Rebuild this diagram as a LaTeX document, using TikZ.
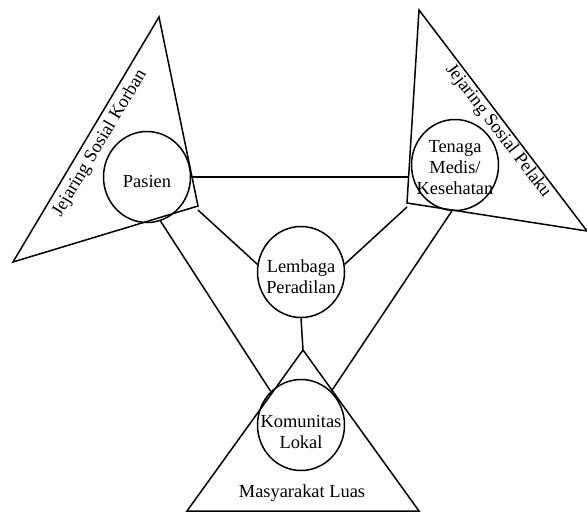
\documentclass[tikz,border=0pt]{standalone}
\usepackage{fontspec}
\setmainfont{Liberation Serif}
\usetikzlibrary{shapes.geometric}
\begin{document}
\begin{tikzpicture}[x=1pt,y=-1pt,line width=1.5pt,
  circ/.style={draw,ellipse,minimum width=87pt,minimum height=91pt,inner sep=0pt},
  lbl/.style={font=\fontsize{18.4}{21}\selectfont,align=center,inner sep=0pt},
  tri/.style={draw,line join=miter},
  link/.style={draw}]
\useasboundingbox (0,0) rectangle (587,512);
% triangles
\coordinate (LA) at (159,17);
\coordinate (LB) at (13,262);
\coordinate (LC) at (198,206);
\coordinate (RA) at (419,10);
\coordinate (RB) at (587,231);
\coordinate (RC) at (407,203);
\coordinate (BA) at (303,350);
\coordinate (BB) at (187,511);
\coordinate (BC) at (419,511);
\draw[tri] (LA) -- (LB) -- (LC) -- cycle;
\draw[tri] (RA) -- (RB) -- (RC) -- cycle;
\draw[tri] (BA) -- (BB) -- (BC) -- cycle;
% circles
\node[circ] (pas) at (147,177) {};
\node[circ] (ten) at (455,165) {};
\node[circ] (lem) at (301,272) {};
\node[circ] (kom) at (301,425) {};
% texts (base = last line)
\node[lbl,anchor=base] (tpas) at (147,187) {Pasien};
\node[lbl,anchor=base] (tten) at (455,194) {Tenaga\\Medis/\\Kesehatan};
\node[lbl,anchor=base] (tlem) at (301,293) {Lembaga\\Peradilan};
\node[lbl,anchor=base] (tkom) at (301,448) {Komunitas\\Lokal};
\node[lbl,anchor=base] (tmas) at (302,497) {Masyarakat Luas};
\node[lbl,rotate=59.2] (tkor) at (100,143) {Jejaring Sosial Korban};
\node[lbl,rotate=-52.7] (tpel) at (498,131) {Jejaring Sosial Pelaku};
% connectors
\coordinate (H1) at (409,177);
\coordinate (L1) at (198,210);
\coordinate (R1) at (407,207);
\draw[link] (pas.east) -- (H1);
\draw[link] (L1) -- (lem.170);
\draw[link] (R1) -- (lem.10);
\draw[link] (lem.south) -- (BA);
\draw[link] (pas.-73) -- (kom.132);
\draw[link] (ten.-94) -- (kom.48);
\end{tikzpicture}
\end{document}
